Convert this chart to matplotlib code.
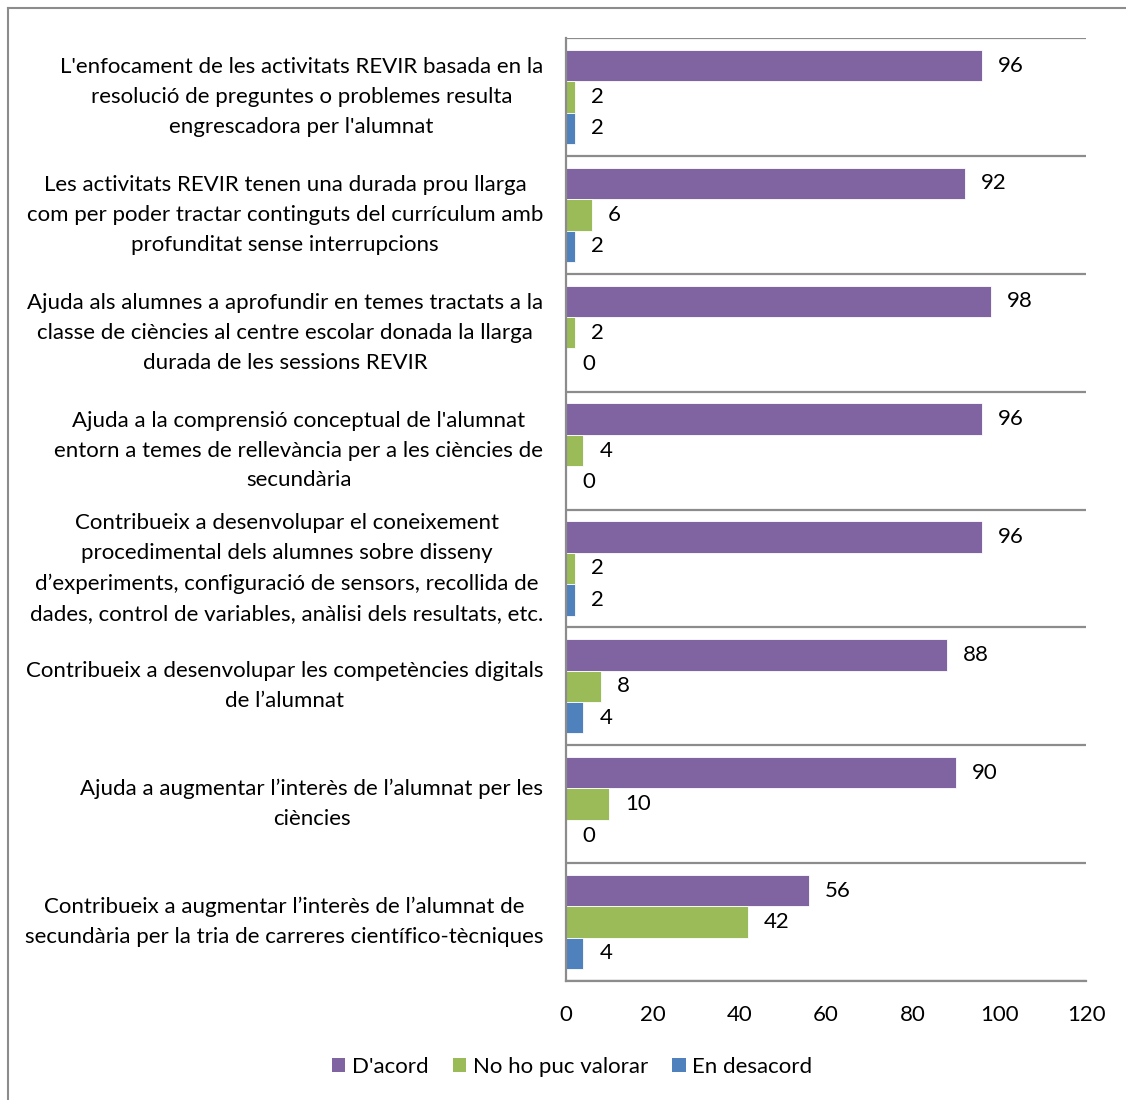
import numpy as np
import matplotlib.pyplot as plt
from matplotlib.lines import Line2D
from matplotlib.patches import Patch

plt.rcParams['font.family'] = ['Lato', 'DejaVu Sans']

# Data (categories top to bottom)
categories = [
    "L'enfocament de les activitats REVIR basada en la\nresolució de preguntes o problemes resulta\nengrescadora per l'alumnat",
    "Les activitats REVIR tenen una durada prou llarga\ncom per poder tractar continguts del currículum amb\nprofunditat sense interrupcions",
    "Ajuda als alumnes a aprofundir en temes tractats a la\nclasse de ciències al centre escolar donada la llarga\ndurada de les sessions REVIR",
    "Ajuda a la comprensió conceptual de l'alumnat\nentorn a temes de rellevància per a les ciències de\nsecundària",
    "Contribueix a desenvolupar el coneixement\nprocedimental dels alumnes sobre disseny\nd’experiments, configuració de sensors, recollida de\ndades, control de variables, anàlisi dels resultats, etc.",
    "Contribueix a desenvolupar les competències digitals\nde l’alumnat",
    "Ajuda a augmentar l’interès de l’alumnat per les\nciències",
    "Contribueix a augmentar l’interès de l’alumnat de\nsecundària per la tria de carreres científico-tècniques",
]
series_names = ["D'acord", "No ho puc valorar", "En desacord"]
acord = [96, 92, 98, 96, 96, 88, 90, 56]
no_valorar = [2, 6, 2, 4, 2, 8, 10, 42]
desacord = [2, 2, 0, 0, 2, 4, 0, 4]
colors = ["#8064A2", "#9BBB59", "#4F81BD"]
xticks = [0, 20, 40, 60, 80, 100, 120]

FS = 16

fig = plt.figure(figsize=(11.26, 11.0), dpi=100)
ax = fig.add_axes([0.5027, 0.10818, 0.4618, 0.85727])

n = len(categories)
centers = np.arange(n)  # category i centered at i, top first
bh = 1.0 / (3 + 0.75)
offsets = [-bh, 0, bh]

for vals, off, col in zip([acord, no_valorar, desacord], offsets, colors):
    ax.barh(centers + off, vals, height=bh, color=col, edgecolor='white', linewidth=0.6)
    for y, v in zip(centers + off, vals):
        ax.annotate(str(v), (v, y), xytext=(11.5, 0), textcoords='offset points',
                    ha='left', va='center', fontsize=FS, color='black')

ax.set_ylim(n - 0.5, -0.5)
ax.set_xlim(0, 120)
ax.set_xticks(xticks)
ax.set_xticklabels([str(t) for t in xticks], fontsize=FS)
ax.tick_params(axis='x', length=0, pad=17)
ax.set_yticks([])

# category separators
for b in np.arange(-0.5, n - 0.4, 1.0):
    ax.axhline(b, color='#8c8c8c', linewidth=1.6, zorder=0.5)
for s in ['top', 'right']:
    ax.spines[s].set_visible(False)
ax.spines['left'].set_color('#8c8c8c')
ax.spines['left'].set_linewidth(1.6)
ax.spines['bottom'].set_color('#8c8c8c')
ax.spines['bottom'].set_linewidth(1.6)

for y, lab in zip(centers, categories):
    ax.text(-0.044, y, lab, transform=ax.get_yaxis_transform(), ha='right', va='center',
            multialignment='center', fontsize=FS, linespacing=1.62)

handles = [Patch(facecolor=c, edgecolor='none') for c in colors]
fig.legend(handles, series_names, loc='center', bbox_to_anchor=(0.508, 0.030), ncol=3,
           frameon=False, fontsize=FS, handlelength=0.6, handleheight=0.6,
           handletextpad=0.3, columnspacing=1.1)

# outer chart border (left and top visible)
fig.add_artist(Line2D([0.0071, 0.0071], [0, 0.9927], color='#8c8c8c', linewidth=1.5))
fig.add_artist(Line2D([0.0071, 1.0], [0.9927, 0.9927], color='#8c8c8c', linewidth=1.5))

fig.savefig('out.png', dpi=100)
